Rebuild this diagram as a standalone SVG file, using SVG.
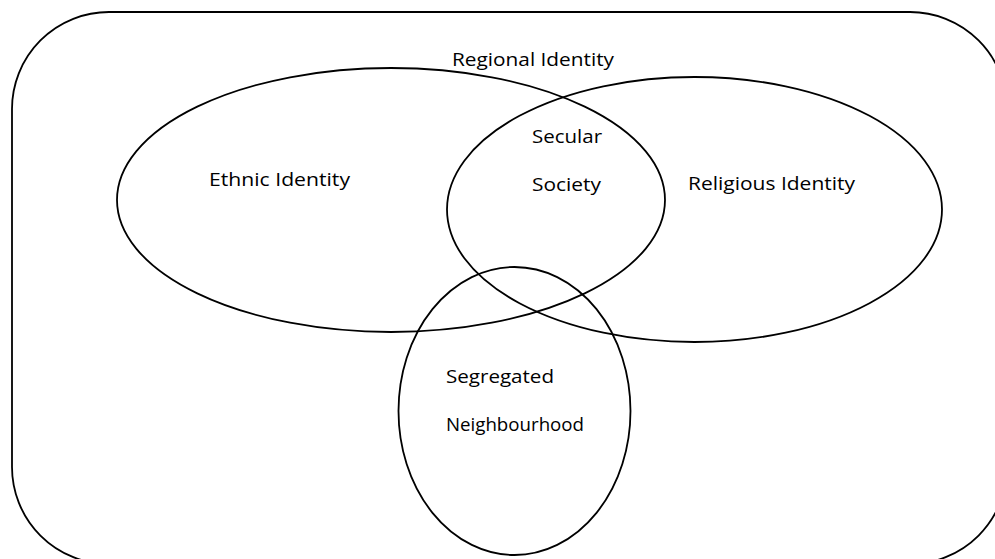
<svg xmlns="http://www.w3.org/2000/svg" width="995" height="559" viewBox="0 0 995 559">
  <style>
    .shape { fill: none; stroke: #000; stroke-width: 1.8; }
    .label { font-family: "Open Sans", "Noto Sans", "Liberation Sans", sans-serif; font-size: 18px; fill: #000; }
  </style>
  <rect width="995" height="559" fill="#fff"/>
  <g id="regional-identity">
    <rect class="shape" x="12" y="12" width="995" height="552" rx="97" ry="97"/>
    <text class="label" x="452" y="66" textLength="162" lengthAdjust="spacingAndGlyphs">Regional Identity</text>
  </g>
  <g id="ethnic-identity">
    <ellipse class="shape" cx="391" cy="200" rx="274" ry="132"/>
    <text class="label" x="209" y="186" textLength="141" lengthAdjust="spacingAndGlyphs">Ethnic Identity</text>
  </g>
  <g id="religious-identity">
    <ellipse class="shape" cx="694.5" cy="209.5" rx="247.5" ry="132.5"/>
    <text class="label" x="688" y="190" textLength="167" lengthAdjust="spacingAndGlyphs">Religious Identity</text>
  </g>
  <g id="secular-society">
    <text class="label" x="532" y="143" textLength="70" lengthAdjust="spacingAndGlyphs">Secular</text>
    <text class="label" x="532" y="191" textLength="69" lengthAdjust="spacingAndGlyphs">Society</text>
  </g>
  <g id="segregated-neighbourhood">
    <ellipse class="shape" cx="514.5" cy="411" rx="116" ry="144"/>
    <text class="label" x="446" y="383" textLength="108" lengthAdjust="spacingAndGlyphs">Segregated</text>
    <text class="label" x="446" y="431" font-size="17" textLength="138" lengthAdjust="spacingAndGlyphs">Neighbourhood</text>
  </g>
  <g id="connectors"/>
</svg>
